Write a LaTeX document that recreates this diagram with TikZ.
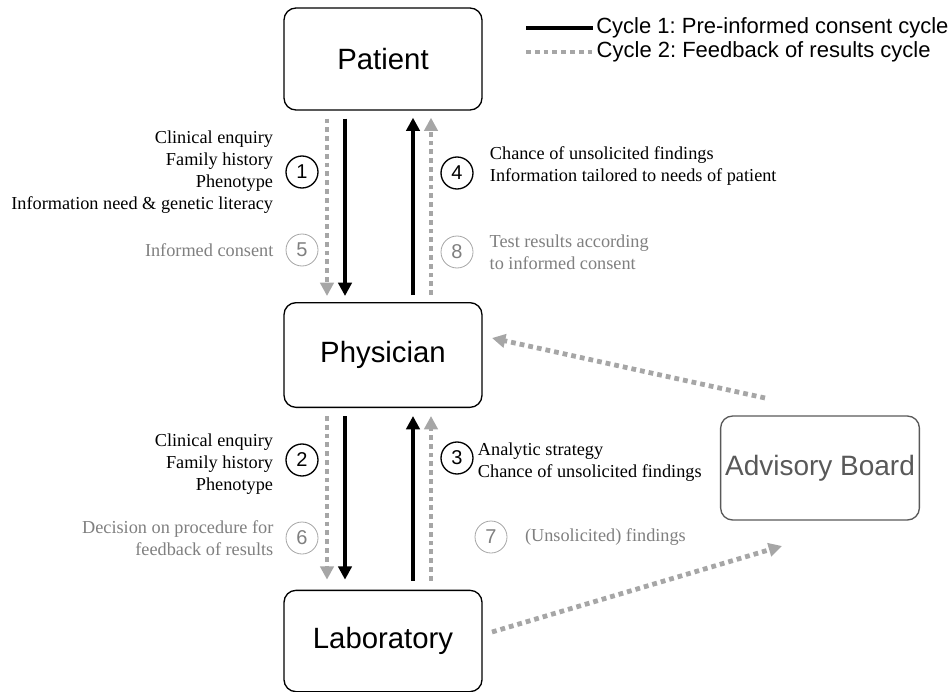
\documentclass[tikz,border=0pt]{standalone}
\usepackage{fontspec}
\setmainfont{Liberation Serif}
\setsansfont{Liberation Sans}
\usetikzlibrary{arrows.meta, positioning}
\frenchspacing

\definecolor{cyclegray}{HTML}{A6A6A6}
\definecolor{labelgray}{HTML}{7F7F7F}
\definecolor{boardgray}{HTML}{595959}

\tikzset{
  party/.style={draw, rounded corners=9pt, line width=1pt, minimum width=148.5pt,
    font=\sffamily\fontsize{22}{24}\selectfont},
  cycleone/.style={line width=3pt, -{Triangle[length=10pt, width=10pt]}},
  cycletwo/.style={cyclegray, line width=3.6pt, dash pattern=on 3.6pt off 3pt,
    -{Triangle[length=10pt, width=10pt]}},
  stepone/.style={draw, circle, line width=1pt, minimum size=24pt, inner sep=0,
    font=\sffamily\fontsize{15}{16}\selectfont},
  steptwo/.style={stepone, draw=cyclegray, line width=0.6pt, text=labelgray},
  info/.style={inner sep=0, font=\fontsize{13.7}{16.5}\selectfont},
  infotwo/.style={info, text=labelgray}
}

\begin{document}
\begin{tikzpicture}[x=0.75pt, y=-0.75pt]
  \useasboundingbox (0,0) rectangle (950,692);

  % the parties
  \node [party, minimum height=76.5pt] (patient) at (383, 59) {Patient};
  \node [party, minimum height=78.5pt] (physician) at (383, 355) {Physician};
  \node [party, minimum height=76pt] (lab) at (383, 641) {Laboratory};
  \node [party, minimum width=147.5pt, minimum height=78pt, draw=boardgray,
    text=boardgray, font=\sffamily\fontsize{21}{24}\selectfont] (board) at (820, 468) {Advisory Board};

  % legend
  \coordinate (leg1) at (526, 28);
  \coordinate (leg2) at (526, 52);
  \draw [line width=3pt] (leg1) -- ++(67, 0) node [right=1pt, inner sep=0,
    font=\sffamily\fontsize{16.5}{18}\selectfont] (legone) {Cycle 1: Pre-informed consent cycle};
  \draw [cyclegray, line width=3.6pt, dash pattern=on 3.6pt off 3pt] (leg2) -- ++(67, 0)
    node [right=1pt, inner sep=0, text=black,
    font=\sffamily\fontsize{16.5}{18}\selectfont] (legtwo) {Cycle 2: Feedback of results cycle};

  % patient <-> physician
  \draw [cycletwo] ([shift={(-56, 8)}]patient.south) -- ([shift={(-56, -6)}]physician.north);
  \draw [cycleone] ([shift={(-38, 8)}]patient.south) -- ([shift={(-38, -6)}]physician.north);
  \draw [cycleone] ([shift={(30, -7)}]physician.north) -- ([shift={(30, 7)}]patient.south);
  \draw [cycletwo] ([shift={(48, -7)}]physician.north) -- ([shift={(48, 7)}]patient.south);

  % physician <-> laboratory
  \draw [cycletwo] ([shift={(-56, 8)}]physician.south) -- ([shift={(-56, -10)}]lab.north);
  \draw [cycleone] ([shift={(-38, 8)}]physician.south) -- ([shift={(-38, -10)}]lab.north);
  \draw [cycleone] ([shift={(30, -9)}]lab.north) -- ([shift={(30, 8)}]physician.south);
  \draw [cycletwo] ([shift={(48, -9)}]lab.north) -- ([shift={(48, 8)}]physician.south);

  % advisory board
  \coordinate (labout) at (492, 632);
  \coordinate (boardin) at (782, 546);
  \coordinate (boardout) at (765, 398);
  \coordinate (physin) at (492, 338);
  \draw [cycletwo] (labout) -- (boardin);
  \draw [cycletwo] (boardout) -- (physin);

  % steps
  \node [stepone] (s1) at (302, 172) {1};
  \node [steptwo] (s5) at (302, 250) {5};
  \node [stepone] (s4) at (457, 173) {4};
  \node [steptwo] (s8) at (457, 252) {8};
  \node [stepone] (s2) at (302, 460) {2};
  \node [steptwo] (s6) at (302, 538) {6};
  \node [stepone] (s3) at (457, 458) {3};
  \node [steptwo] (s7) at (491, 537) {7};

  \node [info, align=right, left=9pt of s1] {Clinical enquiry\\Family history\\Phenotype\\
    Information need \& genetic literacy};
  \node [infotwo, left=9pt of s5] {Informed consent};
  \node [info, align=left, right=12pt of s4, yshift=5pt] {Chance of unsolicited findings\\
    Information tailored to needs of patient};
  \node [infotwo, align=left, right=12pt of s8] {Test results according\\to informed consent};
  \node [info, align=right, left=9pt of s2, yshift=-3pt] {Clinical enquiry\\Family history\\Phenotype};
  \node [infotwo, align=right, left=9pt of s6] {Decision on procedure for\\feedback of results};
  \node [info, align=left, right=3pt of s3, yshift=-3pt] {Analytic strategy\\
    Chance of unsolicited findings};
  \node [infotwo, right=13pt of s7] {(Unsolicited) findings};
\end{tikzpicture}
\end{document}
